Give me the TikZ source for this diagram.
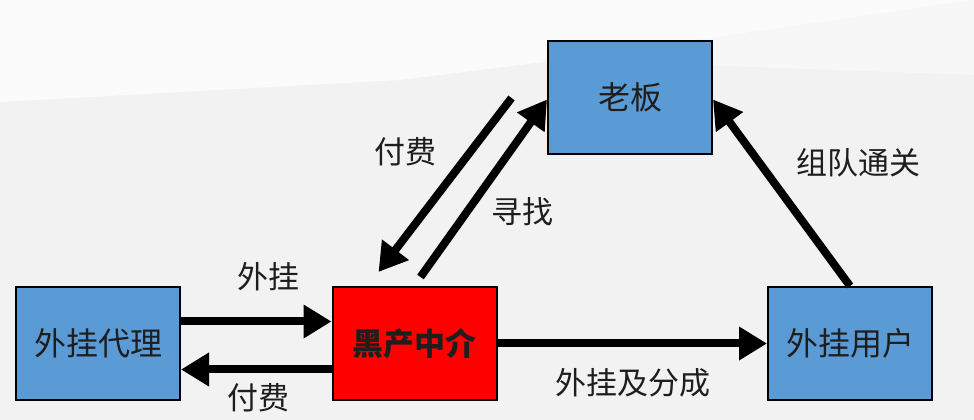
\documentclass[tikz,border=0pt]{standalone}
\usepackage{fontspec}
\setmainfont{Noto Sans CJK SC}
\usetikzlibrary{arrows.meta,calc}
\definecolor{boxblue}{HTML}{5B9BD5}
\definecolor{bgray}{HTML}{F2F2F2}
\definecolor{blight}{HTML}{FBFBFB}
\definecolor{txt}{HTML}{1E1E1E}
\tikzset{
  box/.style={draw=black,line width=2pt,fill=boxblue,minimum width=164pt,minimum height=113pt,inner sep=0pt,font=\fontsize{32}{36}\selectfont,text=txt},
  redbox/.style={box,fill=red,font=\fontsize{31}{36}\selectfont\bfseries},
  flow/.style={line width=8pt,-{Triangle[length=28pt,width=32pt]},black},
  lab/.style={font=\fontsize{31}{34}\selectfont,text=txt,inner sep=0pt}
}
\begin{document}
\begin{tikzpicture}[x=1pt,y=1pt]
\useasboundingbox (0,0) rectangle (974,420);
\fill[bgray] (0,0) rectangle (974,420);
\fill[blight] (0,420) -- (0,318) -- (400,340) -- (560,360) -- (974,420) -- cycle;
\fill[blight!60!bgray] (560,360) -- (974,345) -- (974,420) -- cycle;
\node[box] (agent) at (98,76.5) {外挂代理};
\node[redbox] (mid) at (414.5,76.5) {黑产中介};
\node[box] (boss) at (630,322.5) {老板};
\node[box] (user) at (850,76.5) {外挂用户};
\coordinate (payS) at ($(mid.north west)+(180,188)$);
\coordinate (payE) at ($(mid.north west)+(47,14)$);
\coordinate (findS) at ($(mid.north west)+(89,9)$);
\draw[flow] ([yshift=22pt]agent.east) -- ([yshift=22pt]mid.west);
\draw[flow] ([yshift=-26pt]mid.west) -- ([yshift=-26pt]agent.east);
\draw[flow] (mid.east) -- (user.west);
\draw[flow] (user.north) -- ([yshift=-2pt]boss.east);
\draw[flow] (payS) -- (payE);
\draw[flow] (findS) -- ([yshift=-2pt]boss.west);
\node[lab] (l1) at (268,143) {外挂};
\node[lab] (l2) at (258,22) {付费};
\node[lab] (l3) at (633,37) {外挂及分成};
\node[lab] (l4) at (858,257) {组队通关};
\node[lab] (l5) at (405,268) {付费};
\node[lab] (l6) at (522,208) {寻找};
\end{tikzpicture}
\end{document}
